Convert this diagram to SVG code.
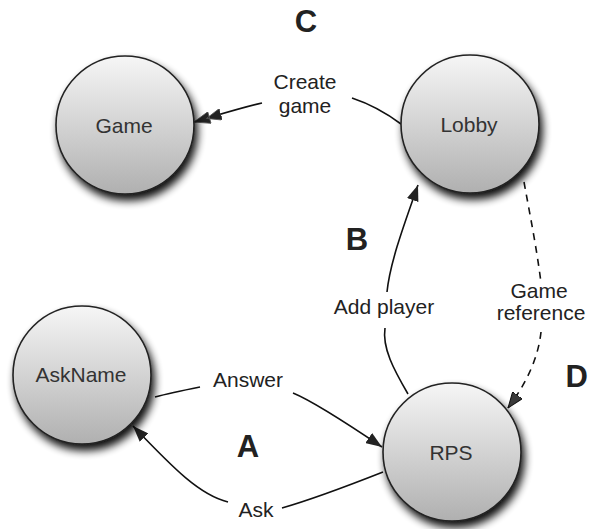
<svg xmlns="http://www.w3.org/2000/svg" width="590" height="529" viewBox="0 0 590 529">
<defs>
<linearGradient id="g" x1="0" y1="0" x2="0" y2="1">
<stop offset="0" stop-color="#f6f6f6"/>
<stop offset="1" stop-color="#b0b0b0"/>
</linearGradient>
<filter id="sh" x="-30%" y="-30%" width="160%" height="160%">
<feGaussianBlur in="SourceAlpha" stdDeviation="4.5"/>
<feOffset dx="3" dy="6" result="b"/>
<feComponentTransfer in="b" result="c"><feFuncA type="linear" slope="0.95"/></feComponentTransfer>
<feMerge><feMergeNode in="c"/><feMergeNode in="SourceGraphic"/></feMerge>
</filter>
<marker id="ah" viewBox="0 0 16 12" refX="16" refY="6" markerWidth="16" markerHeight="12" markerUnits="userSpaceOnUse" orient="auto">
<path d="M0,0 L16,6 L0,12 Z" fill="#222"/>
</marker>
<marker id="ah2" viewBox="0 0 28 12" refX="28" refY="6" markerWidth="28" markerHeight="12" markerUnits="userSpaceOnUse" orient="auto">
<path d="M0,0 L15,6 L0,12 Z M12,0 L28,6 L12,12 Z" fill="#222" stroke="#555" stroke-width="0.8"/>
</marker>
<marker id="ahd" viewBox="0 0 16 12" refX="16" refY="6" markerWidth="16" markerHeight="12" markerUnits="userSpaceOnUse" orient="auto">
<path d="M0,0 L16,6 L0,12 Z" fill="#3a3a3a" stroke="#111" stroke-width="1"/>
</marker>
</defs>
<style>
.node circle{fill:url(#g);stroke:#222;stroke-width:1.6;filter:url(#sh)}
.node text{font-family:"Liberation Sans",Arial,sans-serif;font-size:21px;fill:#333;text-anchor:middle}
.lbl{font-family:"Liberation Sans",Arial,sans-serif;font-size:21px;fill:#222;text-anchor:middle}
.big{font-family:"Liberation Sans",Arial,sans-serif;font-size:31px;font-weight:bold;fill:#222;text-anchor:middle}
.e{fill:none;stroke:#111;stroke-width:1.6}
.d{stroke-dasharray:7,6}
</style>
<rect width="590" height="529" fill="#fff"/>
<g id="connectors">
<path class="e" d="M401,124 C 385,112 370,104 352,98"/>
<path class="e" d="M262,103 C 240,108 215,116 194,122" marker-end="url(#ah2)"/>
<path class="e" d="M408,394 C 394,370 382,348 385,328"/>
<path class="e" d="M387,292 C 390,262 405,222 418,185" marker-end="url(#ah)"/>
<path class="e d" d="M524,182 C 530,215 537,250 541,283"/>
<path class="e d" d="M541,332 C 538,360 525,385 508,408" marker-end="url(#ahd)"/>
<path class="e" d="M155,397 C 170,393 185,390 200,387"/>
<path class="e" d="M293,393 C 310,400 345,422 382,447" marker-end="url(#ah)"/>
<path class="e" d="M383,472 C 350,485 310,500 282,508"/>
<path class="e" d="M228,502 C 200,495 175,470 133,426" marker-end="url(#ah)"/>
</g>
<g id="Game" class="node"><circle cx="125" cy="125" r="69"/><text x="124" y="133">Game</text></g>
<g id="Lobby" class="node"><circle cx="470" cy="124" r="69"/><text x="469" y="132">Lobby</text></g>
<g id="AskName" class="node"><circle cx="82" cy="375" r="69"/><text x="81" y="382">AskName</text></g>
<g id="RPS" class="node"><circle cx="452" cy="452" r="69"/><text x="451" y="460">RPS</text></g>
<g id="labels">
<text class="lbl" x="305" y="89">Create</text>
<text class="lbl" x="305" y="113">game</text>
<text class="lbl" x="384" y="314">Add player</text>
<text class="lbl" x="539" y="298">Game</text>
<text class="lbl" x="541" y="320">reference</text>
<text class="lbl" x="248" y="387">Answer</text>
<text class="lbl" x="256" y="517">Ask</text>
<text class="big" x="306" y="32">C</text>
<text class="big" x="357" y="250">B</text>
<text class="big" x="248" y="457">A</text>
<text class="big" x="588" y="387" style="text-anchor:end">D</text>
</g>
</svg>
